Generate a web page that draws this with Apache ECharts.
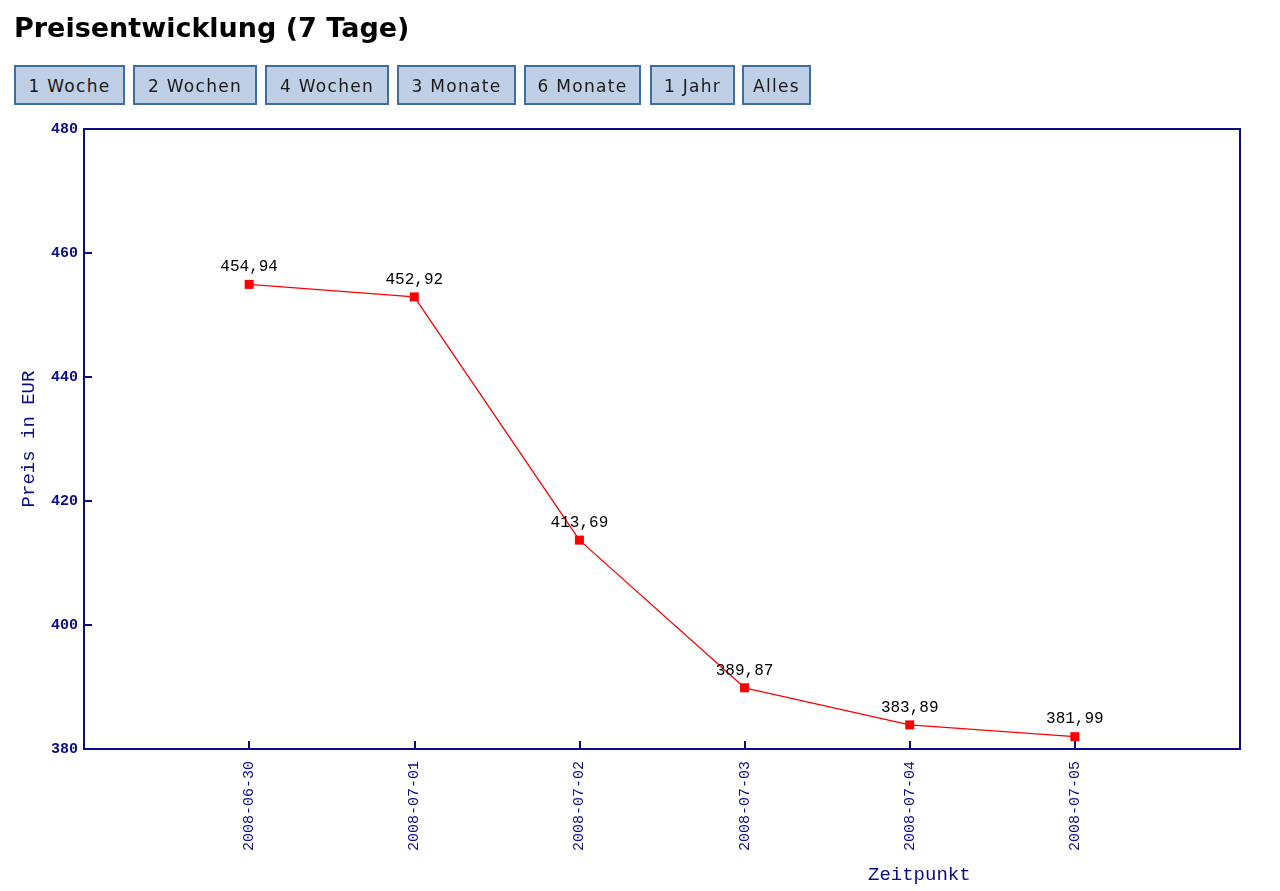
<!DOCTYPE html>
<html>
<head>
<meta charset="utf-8">
<script src="https://cdn.jsdelivr.net/npm/echarts@6/dist/echarts.min.js"></script>
<style>
  body { margin: 0; background: #fff; font-family: "DejaVu Sans", Verdana, sans-serif; }
  #main { position: absolute; left: 0; top: 0; width: 1280px; height: 891px; }
  h1 { position: absolute; left: 14px; top: 12px; margin: 0; font-family: "DejaVu Sans", sans-serif; font-size: 27px; font-weight: bold; color: #000; z-index: 2; }
  .btns { position: absolute; left: 14px; top: 65px; z-index: 2; }
  .btns span {
    position: absolute; top: 0; height: 40px; line-height: 39px; box-sizing: border-box;
    background: #bfcfe6; border: 2px solid #3c6ea0; font-family: "DejaVu Sans", sans-serif;
    font-size: 17px; letter-spacing: 1.3px; color: #1a1a1a; text-align: center; white-space: nowrap;
  }
</style>
</head>
<body>
<div id="main"></div>
<h1>Preisentwicklung (7 Tage)</h1>
<div class="btns">
  <span style="left:0;width:111px">1 Woche</span>
  <span style="left:119px;width:124px">2 Wochen</span>
  <span style="left:251px;width:124px">4 Wochen</span>
  <span style="left:383px;width:119px">3 Monate</span>
  <span style="left:510px;width:117px">6 Monate</span>
  <span style="left:636px;width:85px">1 Jahr</span>
  <span style="left:728px;width:69px">Alles</span>
</div>
<script>
var dates = ['2008-06-30', '2008-07-01', '2008-07-02', '2008-07-03', '2008-07-04', '2008-07-05'];
var prices = [454.94, 452.92, 413.69, 389.87, 383.89, 381.99];
var yTicks = { min: 380, max: 480, step: 20 };

var navy = '#0c0c86';
var mono = 'Liberation Mono, monospace';
var myChart = echarts.init(document.getElementById('main'));
var option = {
    backgroundColor: 'transparent',
    animation: false,
    grid: {
        left: 84, right: 40, top: 129, bottom: 142,
        show: true, borderColor: navy, borderWidth: 2
    },
    xAxis: {
        type: 'value',
        min: 0,
        max: dates.length + 1,
        interval: 1,
        splitLine: { show: false },
        axisLine: { lineStyle: { color: navy, width: 2 } },
        axisTick: { inside: true, length: 8, lineStyle: { color: navy, width: 2 } },
        axisLabel: {
            rotate: 90,
            margin: 12,
            color: navy,
            fontFamily: mono,
            fontSize: 15,
            formatter: function (v) { return dates[v - 1] || ''; }
        }
    },
    yAxis: {
        type: 'value',
        min: yTicks.min,
        max: yTicks.max,
        interval: yTicks.step,
        name: 'Preis in EUR',
        nameLocation: 'middle',
        nameGap: 46,
        nameTextStyle: { color: navy, fontSize: 19, fontFamily: mono },
        splitLine: { show: false },
        axisLine: { lineStyle: { color: navy, width: 2 } },
        axisTick: { inside: true, length: 8, lineStyle: { color: navy, width: 2 } },
        axisLabel: {
            margin: 6,
            color: navy,
            fontWeight: 'bold',
            fontFamily: mono,
            fontSize: 15
        }
    },
    graphic: [{
        type: 'text',
        left: 868, top: 865,
        style: { text: 'Zeitpunkt', fill: navy, fontSize: 19, fontFamily: mono }
    }],
    series: [{
        type: 'line',
        data: prices.map(function (p, i) { return [i + 1, p]; }),
        symbol: 'rect',
        symbolSize: 9,
        lineStyle: { color: '#ff0000', width: 1.3 },
        itemStyle: { color: '#ff0000' },
        label: {
            show: true,
            position: 'top',
            distance: 5,
            color: '#000',
            fontFamily: mono,
            fontSize: 16,
            formatter: function (p) { return p.value[1].toFixed(2).replace('.', ','); }
        }
    }]
};
myChart.setOption(option);
</script>
</body>
</html>
